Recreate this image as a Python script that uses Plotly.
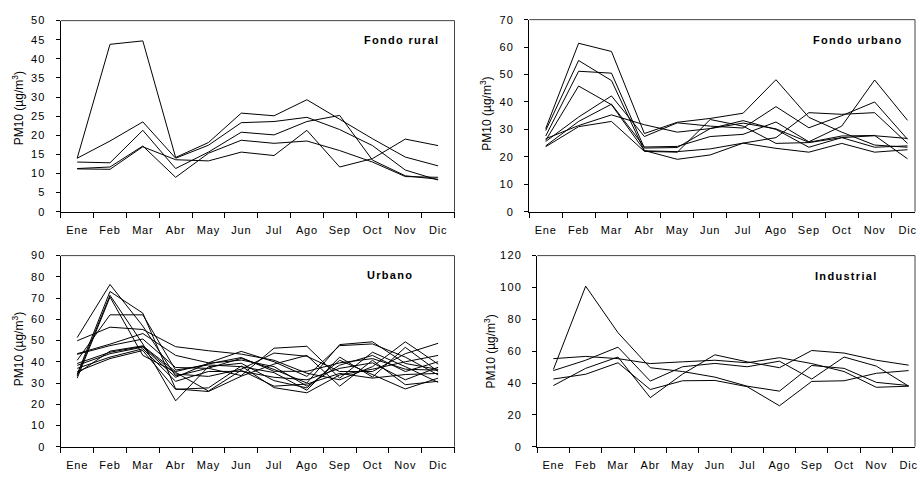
import plotly.graph_objects as go

months = ["Ene", "Feb", "Mar", "Abr", "May", "Jun", "Jul", "Ago", "Sep", "Oct", "Nov", "Dic"]

fondo_rural = [
    [14.0, 43.8, 44.7, 14.2, 18.1, 25.8, 25.1, 29.3, 24.2, 19.1, 14.3, 12.0],
    [14.0, 18.5, 23.5, 14.0, 17.4, 23.3, 23.6, 24.7, 21.5, 17.3, 10.9, 8.3],
    [13.0, 12.8, 21.3, 11.3, 15.6, 20.8, 20.1, 23.6, 25.2, 13.5, 9.4, 8.5],
    [11.3, 11.7, 17.2, 9.0, 15.3, 18.7, 17.9, 18.5, 16.0, 13.0, 9.2, 9.0],
    [11.2, 11.1, 17.0, 13.6, 13.3, 15.6, 14.7, 21.3, 11.7, 13.9, 19.0, 17.3],
]

fondo_urbano = [
    [30.3, 61.4, 58.4, 28.5, 32.6, 34.0, 35.9, 48.1, 34.4, 29.0, 24.3, 23.5],
    [29.6, 55.1, 47.8, 22.2, 21.9, 22.9, 25.0, 23.1, 21.7, 24.9, 21.7, 22.6],
    [27.6, 51.2, 50.5, 23.2, 23.4, 30.3, 32.3, 30.2, 25.3, 27.6, 27.8, 19.3],
    [26.0, 45.8, 39.0, 22.3, 19.1, 20.7, 25.0, 27.0, 36.1, 35.5, 36.1, 24.9],
    [25.6, 34.5, 42.2, 27.4, 32.4, 31.2, 30.5, 38.3, 30.6, 35.0, 40.0, 26.4],
    [24.0, 32.9, 39.2, 23.6, 23.8, 27.4, 28.2, 32.7, 25.5, 31.2, 48.0, 33.3],
    [26.6, 31.4, 35.3, 31.7, 29.0, 30.3, 33.2, 30.0, 23.5, 27.0, 23.5, 24.0],
    [23.7, 31.0, 32.9, 22.0, 21.7, 33.6, 31.2, 24.9, 25.2, 27.0, 27.7, 26.7],
]

urbano = [
    [51.4, 76.4, 56.8, 33.3, 37.0, 41.6, 36.4, 30.0, 48.1, 49.4, 39.2, 36.4],
    [49.9, 56.3, 55.2, 47.1, 45.2, 43.6, 40.7, 34.6, 31.5, 37.7, 49.4, 38.9],
    [43.8, 48.3, 53.3, 43.0, 39.5, 44.9, 40.0, 33.1, 47.6, 48.4, 42.2, 33.8],
    [43.5, 47.6, 50.7, 37.3, 36.9, 33.5, 46.4, 47.3, 32.3, 44.5, 37.7, 30.3],
    [40.7, 62.1, 62.1, 36.1, 38.5, 37.7, 34.9, 26.6, 42.2, 32.8, 46.8, 35.4],
    [34.1, 73.1, 62.9, 27.2, 26.0, 33.2, 38.9, 43.0, 28.5, 40.7, 29.2, 30.8],
    [33.3, 71.3, 48.4, 21.6, 37.7, 39.3, 31.1, 27.7, 40.7, 33.8, 27.2, 32.3],
    [39.2, 44.5, 47.2, 34.2, 33.1, 36.5, 44.1, 42.6, 35.4, 35.4, 43.8, 48.7],
    [38.3, 43.8, 46.9, 32.7, 39.3, 40.8, 37.7, 28.5, 38.4, 43.0, 35.4, 40.0],
    [36.9, 42.2, 46.1, 30.8, 35.4, 35.5, 32.7, 31.5, 36.9, 39.5, 31.5, 37.4],
    [35.4, 41.5, 45.3, 27.0, 27.7, 38.0, 27.8, 25.4, 33.8, 36.5, 40.0, 43.0],
    [32.3, 70.5, 43.0, 35.0, 26.2, 36.0, 28.5, 29.5, 34.5, 32.3, 34.0, 34.5],
    [34.5, 45.0, 47.5, 35.4, 39.0, 42.0, 35.5, 35.5, 39.5, 41.5, 36.5, 36.0],
]

industrial = [
    [48.5, 100.8, 71.6, 49.6, 47.2, 43.7, 38.0, 34.9, 51.0, 49.2, 40.4, 38.4],
    [55.3, 56.7, 55.3, 52.2, 53.3, 54.3, 52.7, 55.9, 52.2, 47.2, 37.3, 38.0],
    [47.8, 54.3, 62.5, 41.2, 50.2, 52.3, 50.2, 53.7, 42.5, 56.3, 50.6, 38.0],
    [42.5, 45.5, 52.7, 35.9, 41.4, 41.6, 37.7, 25.7, 41.0, 41.4, 46.1, 47.8],
    [38.4, 49.2, 56.3, 30.8, 45.6, 57.7, 53.3, 49.6, 60.4, 58.8, 54.3, 51.2],
]

panel_names = ["Fondo rural", "Fondo urbano", "Urbano", "Industrial"]
y_max = [50, 70, 90, 120]
y_step = [5, 10, 10, 20]
y_title = "PM10 (µg/m<sup>3</sup>)"

W, H = 920, 480
FONT = "Liberation Sans, Arial, sans-serif"


def spaced(t, ls):
    return '<span style="letter-spacing:%spx">%s</span>' % (ls, t)


# pixel geometry of each plot area: left, right, top, bottom, x range end
geom = [
    dict(l=61, r=456, t=15, b=211, xend=11.5, lab_r=442, lab_y=35, tit_x=18, tit_y=105),
    dict(l=531, r=918, t=14, b=211, xend=-0.5 + 387 / 33.0, lab_r=908, lab_y=35, tit_x=488, tit_y=110),
    dict(l=61, r=456, t=256, b=452, xend=11.5, lab_r=416, lab_y=276, tit_x=18, tit_y=352),
    dict(l=539, r=918, t=256, b=452, xend=-0.5 + 379 / 32.4, lab_r=883, lab_y=277, tit_x=492, tit_y=354),
]
series = [fondo_rural, fondo_urbano, urbano, industrial]

fig = go.Figure()
shapes = []
annotations = []
for i, (g, data) in enumerate(zip(geom, series)):
    n = "" if i == 0 else str(i + 1)
    xa, ya = "x" + n, "y" + n
    for s in data:
        fig.add_trace(go.Scatter(x=months, y=s, mode="lines", xaxis=xa, yaxis=ya,
                                 line=dict(color="black", width=1), showlegend=False,
                                 hoverinfo="skip"))
    yvals = list(range(0, y_max[i] + 1, y_step[i]))
    fig.layout["xaxis" + n] = dict(
        domain=[g["l"] / W, g["r"] / W], anchor=ya, type="category",
        categoryorder="array", categoryarray=months,
        range=[-0.5, g["xend"]], tickson="boundaries", ticks="outside", ticklen=5,
        tickcolor="black", showline=True, linecolor="black", linewidth=1,
        showgrid=False, zeroline=False, ticklabelstandoff=8,
        tickmode="array", tickvals=months,
        ticktext=[spaced(m, 0.8) for m in months],
        tickfont=dict(family=FONT, size=11, color="black"))
    fig.layout["yaxis" + n] = dict(
        domain=[1 - g["b"] / H, 1 - g["t"] / H], anchor=xa,
        range=[0, y_max[i]], tickmode="array", tickvals=yvals,
        ticktext=[spaced(str(v), 1.2) for v in yvals],
        ticks="outside", ticklen=4,
        tickcolor="black", showline=True, linecolor="black", linewidth=1,
        showgrid=False, zeroline=False, ticklabelstandoff=8,
        tickfont=dict(family=FONT, size=11, color="black"))
    shapes.append(dict(type="line", xref=xa + " domain", yref=ya + " domain",
                       x0=0, x1=1, y0=1, y1=1, line=dict(color="#444444", width=1)))
    shapes.append(dict(type="line", xref=xa + " domain", yref=ya + " domain",
                       x0=1, x1=1, y0=0, y1=1, line=dict(color="#444444", width=1)))
    annotations.append(dict(
        xref="paper", yref="paper", x=g["lab_r"] / W, y=1 - g["lab_y"] / H,
        xanchor="right", yanchor="middle", showarrow=False,
        text='<b>' + spaced(panel_names[i], 1.3) + '</b>',
        font=dict(family=FONT, size=11, color="black")))
    annotations.append(dict(
        xref="paper", yref="paper", x=g["tit_x"] / W,
        y=1 - g["tit_y"] / H,
        xanchor="center", yanchor="middle", showarrow=False, textangle=-90,
        text=y_title, font=dict(family=FONT, size=12, color="black")))

fig.update_layout(width=W, height=H, margin=dict(l=0, r=0, t=0, b=0),
                  paper_bgcolor="white", plot_bgcolor="white",
                  shapes=shapes, annotations=annotations)
fig.write_html(
    "out.html",
    config={"displayModeBar": False, "staticPlot": True},
    post_script="document.body.style.margin='0';document.body.style.padding='0';"
                "document.body.style.overflow='hidden';",
)
